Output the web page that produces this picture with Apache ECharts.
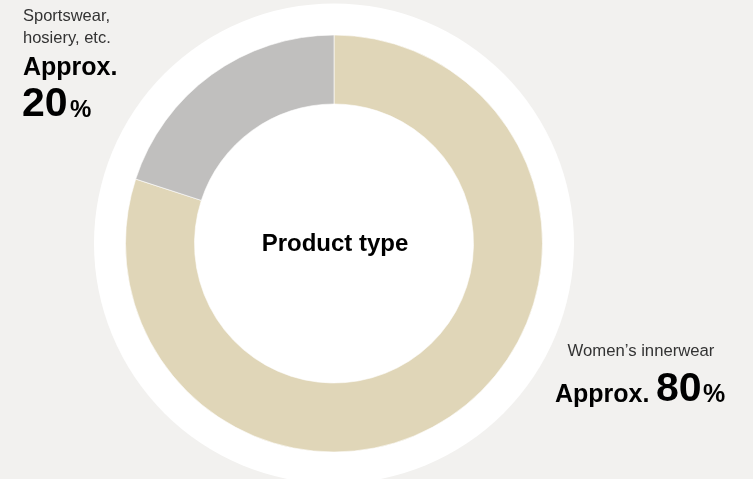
<!DOCTYPE html>
<html><head><meta charset="utf-8">
<script src="https://cdn.jsdelivr.net/npm/echarts@6/dist/echarts.min.js"></script>
<style>html,body{margin:0;padding:0;background:#f2f1ef}#c{width:753px;height:479px}</style>
</head><body><div id="c"></div>
<script>
const categories = ['Women\u2019s innerwear', 'Sportswear,\nhosiery, etc.'];
const values = [80, 20];
const colors = ['#e0d6b8', '#c0bfbe'];
const centerLabel = 'Product type';
const prefix = 'Approx.';

const FONT = '"Liberation Sans", Arial, Helvetica, sans-serif';
const chart = echarts.init(document.getElementById('c'), null, {renderer: 'canvas'});
const cx = 334, cy = 243.5;
const leftLines = categories[1].split('\n');

function txt(x, y, text, font, fill, align) {
  return {type: 'text', z: 100, x: x, y: y, style: {text: text, font: font, fill: fill, textAlign: align || 'left', textVerticalAlign: 'middle'}};
}

chart.setOption({
  backgroundColor: '#f2f1ef',
  animation: false,
  series: [
    {
      type: 'pie', silent: true, center: [cx, cy], radius: [0, 240], z: 1,
      label: {show: false}, labelLine: {show: false},
      data: [{value: 1, itemStyle: {color: '#ffffff'}}]
    },
    {
      type: 'pie', silent: true, center: [cx, cy], radius: [139.5, 208.5], z: 2,
      startAngle: 90, clockwise: true,
      label: {show: false}, labelLine: {show: false},
      itemStyle: {borderColor: '#ffffff', borderWidth: 0.6},
      data: categories.map((c, i) => ({name: c, value: values[i], itemStyle: {color: colors[i]}}))
    }
  ],
  graphic: [
    txt(335, 244, centerLabel, 'bold 24px ' + FONT, '#000', 'center'),
    txt(23, 16, leftLines[0], '16.5px ' + FONT, '#333'),
    txt(23, 38, leftLines[1], '16.5px ' + FONT, '#333'),
    txt(23, 68.5, prefix, 'bold 25px ' + FONT, '#000'),
    txt(22, 104.5, String(values[1]), 'bold 41px ' + FONT, '#000'),
    txt(70, 110.5, '%', 'bold 24px ' + FONT, '#000'),
    txt(641, 351, categories[0], '16.7px ' + FONT, '#333', 'center'),
    txt(555, 395.5, prefix, 'bold 25px ' + FONT, '#000'),
    txt(656, 389.5, String(values[0]), 'bold 41px ' + FONT, '#000'),
    txt(703, 395.5, '%', 'bold 25px ' + FONT, '#000')
  ]
});
</script></body></html>
